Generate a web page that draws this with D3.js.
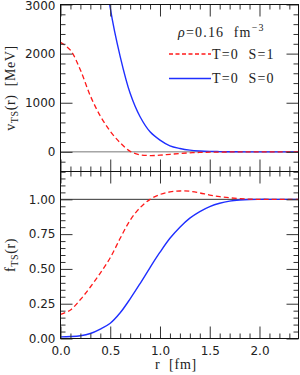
<!DOCTYPE html>
<html>
<head>
<meta charset="utf-8">
<script src="https://cdn.jsdelivr.net/npm/d3@7"></script>
<style>
body { margin: 0; background: #fff; }
text { fill: #222; }
</style>
</head>
<body>
<div id="chart"></div>
<script>
// r grid [fm]
const rValues = [0.0, 0.1, 0.2, 0.3, 0.4, 0.5, 0.6, 0.7, 0.8, 0.9, 1.0, 1.1, 1.2,
                 1.3, 1.4, 1.5, 1.6, 1.7, 1.8, 1.9, 2.0, 2.1, 2.2, 2.3, 2.4];
// v_TS(r) [MeV], T=0 S=1
const vS1 = [2230, 2070, 1665, 1140, 730, 420, 185, 10, -60, -75, -68, -50, -33,
             -20, -12, -7, -4, -2, -1, 0, 0, 0, 0, 0, 0];
// v_TS(r) [MeV], T=0 S=0 (goes off the top below r=0.5)
const rS0top = [0.4, 0.5, 0.6, 0.7, 0.8, 0.9, 1.0, 1.1, 1.2, 1.3, 1.4, 1.5, 1.6,
                1.7, 1.8, 1.9, 2.0, 2.1, 2.2, 2.3, 2.4];
const vS0 = [4600, 2930, 1940, 1192, 714, 408, 239, 122, 69, 35, 18, 9, 5,
             2, 1, 0, 0, 0, 0, 0, 0];
// f_TS(r)
const fS1 = [0.173, 0.205, 0.28, 0.37, 0.47, 0.58, 0.72, 0.85, 0.94, 1.0, 1.035, 1.053, 1.06,
             1.058, 1.046, 1.031, 1.019, 1.011, 1.005, 1.001, 1.0, 1.0, 1.0, 1.0, 1.0];
const fS0 = [0.012, 0.014, 0.02, 0.036, 0.068, 0.11, 0.185, 0.285, 0.395, 0.51, 0.62, 0.72, 0.80,
             0.865, 0.912, 0.948, 0.972, 0.987, 0.995, 0.999, 1.0, 1.0, 1.0, 1.0, 1.0];

const xTickLabels = ["0.0", "0.5", "1.0", "1.5", "2.0"];
const xTickValues = [0, 0.5, 1.0, 1.5, 2.0];
const vTickValues = [0, 1000, 2000, 3000];
const fTickValues = [0, 0.25, 0.5, 0.75, 1.0];
const fTickLabels = ["0.00", "0.25", "0.50", "0.75", "1.00"];

const W = 300, H = 375;
const left = 60.5, right = 298.5;
const top1 = 4.5, mid = 171.5, bot = 338.5;
const MAJ = 12, MIN = 5;

const svg = d3.select("#chart").append("svg")
    .attr("width", W).attr("height", H);

const x = d3.scaleLinear().domain([0, 2.392]).range([left, right]);
const yTop = d3.scaleLinear().domain([-400, 3000]).range([mid, top1]);
const yBot = d3.scaleLinear().domain([0, 1.2]).range([bot, mid]);

const xMinor = d3.range(0, 2.39, 0.1).filter(v => Math.abs(v * 2 - Math.round(v * 2)) > 1e-6);
const vMinor = d3.range(-400, 3001, 200).filter(v => v % 1000 !== 0);
const fMinor = d3.range(0, 1.2001, 0.05).filter(v => Math.abs(v * 4 - Math.round(v * 4)) > 1e-6);

// clip paths for both panels
const defs = svg.append("defs");
defs.append("clipPath").attr("id", "clipTop").append("rect")
    .attr("x", left).attr("y", top1).attr("width", right - left).attr("height", mid - top1);
defs.append("clipPath").attr("id", "clipBot").append("rect")
    .attr("x", left).attr("y", mid).attr("width", right - left).attr("height", bot - mid);

// inside ticks on all four sides of a panel
function panelTicks(ys, y0, y1, yMajor, yMinor) {
    const g = svg.append("g");
    const sides = [
        [d3.axisBottom(x), xTickValues, MAJ, `translate(0,${y0})`],
        [d3.axisBottom(x), xMinor, MIN, `translate(0,${y0})`],
        [d3.axisTop(x), xTickValues, MAJ, `translate(0,${y1})`],
        [d3.axisTop(x), xMinor, MIN, `translate(0,${y1})`],
        [d3.axisLeft(ys), yMajor, MAJ, `translate(${left},0)`],
        [d3.axisLeft(ys), yMinor, MIN, `translate(${left},0)`],
        [d3.axisRight(ys), yMajor, MAJ, `translate(${right},0)`],
        [d3.axisRight(ys), yMinor, MIN, `translate(${right},0)`]
    ];
    sides.forEach(([ax, vals, size, tr]) => {
        const a = g.append("g").attr("transform", tr)
            .call(ax.tickValues(vals).tickSize(-size).tickFormat(""));
        a.select(".domain").remove();
        a.selectAll("line").attr("stroke", "#333");
    });
}

const curve = d3.curveCatmullRom.alpha(0.5);

// ---- top panel ----
svg.append("line")
    .attr("x1", left).attr("x2", right)
    .attr("y1", yTop(0)).attr("y2", yTop(0))
    .attr("stroke", "#777").attr("stroke-width", 1);

const lineTopS1 = d3.line().x((d, i) => x(rValues[i])).y(d => yTop(d)).curve(curve);
const lineTopS0 = d3.line().x((d, i) => x(rS0top[i])).y(d => yTop(d)).curve(curve);

svg.append("path").datum(vS0)
    .attr("clip-path", "url(#clipTop)")
    .attr("fill", "none").attr("stroke", "#1f2fff").attr("stroke-width", 1.4)
    .attr("d", lineTopS0);
svg.append("path").datum(vS1)
    .attr("clip-path", "url(#clipTop)")
    .attr("fill", "none").attr("stroke", "#ff1a1a").attr("stroke-width", 1.3)
    .attr("stroke-dasharray", "5,3")
    .attr("d", lineTopS1);

panelTicks(yTop, mid, top1, vTickValues, vMinor);

const gvl = svg.append("g").attr("transform", `translate(${left},0)`)
    .call(d3.axisLeft(yTop).tickValues(vTickValues).tickSize(0).tickPadding(5).tickFormat(d3.format("d")));
gvl.select(".domain").remove();
gvl.selectAll("text").attr("font-family", "DejaVu Sans").attr("font-size", 12).attr("fill", "#333")
    .attr("dy", d => d === 3000 ? "0.4em" : "0.32em");

// ---- bottom panel ----
svg.append("line")
    .attr("x1", left).attr("x2", right)
    .attr("y1", yBot(1)).attr("y2", yBot(1))
    .attr("stroke", "#333").attr("stroke-width", 1);

const lineBot = d3.line().x((d, i) => x(rValues[i])).y(d => yBot(d)).curve(curve);

svg.append("path").datum(fS0)
    .attr("clip-path", "url(#clipBot)")
    .attr("fill", "none").attr("stroke", "#1f2fff").attr("stroke-width", 1.4)
    .attr("d", lineBot);
svg.append("path").datum(fS1)
    .attr("clip-path", "url(#clipBot)")
    .attr("fill", "none").attr("stroke", "#ff1a1a").attr("stroke-width", 1.3)
    .attr("stroke-dasharray", "5,3")
    .attr("d", lineBot);

panelTicks(yBot, bot, mid, fTickValues, fMinor);

const gfl = svg.append("g").attr("transform", `translate(${left},0)`)
    .call(d3.axisLeft(yBot).tickValues(fTickValues).tickSize(0).tickPadding(5)
        .tickFormat((d, i) => fTickLabels[i]));
gfl.select(".domain").remove();
gfl.selectAll("text").attr("font-family", "DejaVu Sans").attr("font-size", 12).attr("fill", "#333");

const gx = svg.append("g").attr("transform", `translate(0,${bot})`)
    .call(d3.axisBottom(x).tickValues(xTickValues).tickSize(0).tickPadding(7.5)
        .tickFormat((d, i) => xTickLabels[i]));
gx.select(".domain").remove();
gx.selectAll("text").attr("font-family", "DejaVu Sans").attr("font-size", 12).attr("fill", "#333");

// frames
[[top1, mid], [mid, bot]].forEach(([a, b]) => {
    svg.append("rect").attr("x", left).attr("y", a)
        .attr("width", right - left).attr("height", b - a)
        .attr("fill", "none").attr("stroke", "#111").attr("stroke-width", 1);
});

// ---- axis titles ----
const serif = "Liberation Serif";
const vt = svg.append("text")
    .attr("transform", `translate(15,${(top1 + mid) / 2}) rotate(-90)`)
    .attr("text-anchor", "middle").attr("font-family", serif).attr("font-size", 14)
    .attr("letter-spacing", 0.6).style("white-space", "pre");
vt.append("tspan").text("v");
vt.append("tspan").attr("font-size", 10).attr("dy", 3).text("TS");
vt.append("tspan").attr("dy", -3).text("(r)  [MeV]");

const ft = svg.append("text")
    .attr("transform", `translate(15,${(mid + bot) / 2}) rotate(-90)`)
    .attr("text-anchor", "middle").attr("font-family", serif).attr("font-size", 14)
    .attr("letter-spacing", 0.6);
ft.append("tspan").text("f");
ft.append("tspan").attr("font-size", 10).attr("dy", 3).text("TS");
ft.append("tspan").attr("dy", -3).text("(r)");

svg.append("text")
    .attr("x", 176).attr("y", 369)
    .attr("text-anchor", "middle").attr("font-family", serif).attr("font-size", 14)
    .attr("letter-spacing", 0.8).style("white-space", "pre")
    .text("r  [fm]");

// ---- legend ----
const rho = svg.append("text")
    .attr("x", 178).attr("y", 37)
    .attr("font-family", serif).attr("font-size", 14).attr("letter-spacing", 1.2)
    .style("white-space", "pre");
rho.append("tspan").attr("font-style", "italic").text("ρ");
rho.append("tspan").text("=0.16  fm");
rho.append("tspan").attr("font-size", 10).attr("dy", -6).text("−3");

const legend = [
    { label: "T=0  S=1", color: "#ff1a1a", dash: "4,2.5", y: 54 },
    { label: "T=0  S=0", color: "#1f2fff", dash: null, y: 78.5 }
];
legend.forEach(d => {
    svg.append("line")
        .attr("x1", 169).attr("x2", 211).attr("y1", d.y).attr("y2", d.y)
        .attr("stroke", d.color).attr("stroke-width", 1.3)
        .attr("stroke-dasharray", d.dash);
    svg.append("text")
        .attr("x", 212).attr("y", d.y + 4.5)
        .attr("font-family", serif).attr("font-size", 14).attr("letter-spacing", 1.2)
        .style("white-space", "pre")
        .text(d.label);
});
</script>
</body>
</html>
